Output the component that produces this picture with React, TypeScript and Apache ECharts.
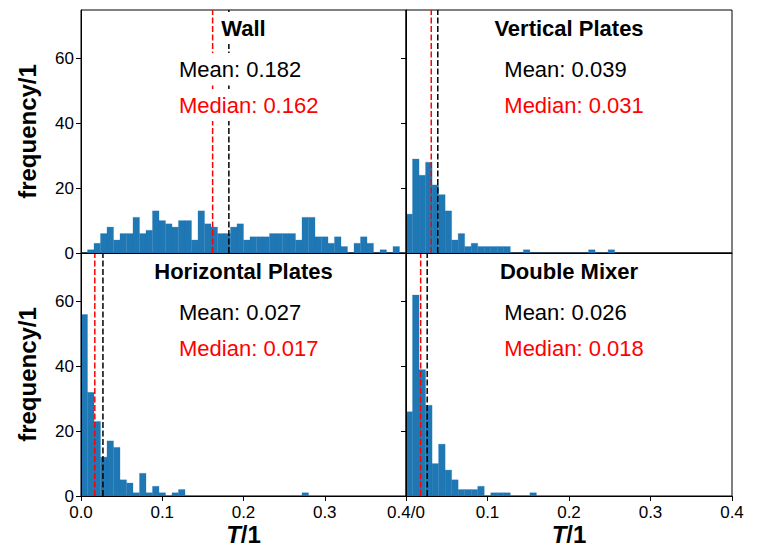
import React, { useEffect, useRef } from "react";
import * as echarts from "echarts";

// ---- data ----
const BIN_WIDTH = 0.008;
const panelTitles = ["Wall", "Vertical Plates", "Horizontal Plates", "Double Mixer"];
const wallCounts = [0, 1, 3, 6, 8, 4, 6, 6, 11, 6, 7, 13, 10, 9, 8, 10, 10, 4, 13, 9, 8, 6, 6, 8, 9, 4, 5, 5, 5, 6, 6, 6, 6, 4, 11, 11, 5, 5, 3, 5, 2, 0, 3, 5, 3, 0, 1, 0, 2, 0];
const verticalCounts = [12, 29, 24, 28, 21, 18, 13, 4, 6, 2, 3, 2, 2, 2, 2, 2, 0, 0, 1, 0, 0, 0, 0, 0, 0, 0, 0, 0, 1, 0, 0, 1];
const horizontalCounts = [56, 32, 23, 12, 17, 15, 5, 4, 1, 7, 1, 3, 1, 0, 1, 2, 0, 0, 0, 0, 0, 0, 0, 0, 0, 0, 0, 0, 0, 0, 0, 0, 0, 0, 1];
const doubleCounts = [26, 62, 39, 28, 10, 16, 8, 5, 2, 2, 2, 3, 0, 1, 1, 1, 0, 0, 0, 1];
const means = [0.182, 0.039, 0.027, 0.026];
const medians = [0.162, 0.031, 0.017, 0.018];
const yTicks = [0, 20, 40, 60];
const X_MAX = 0.4;
const Y_MAX = 75;

const allCounts = [wallCounts, verticalCounts, horizontalCounts, doubleCounts];

const FONT = "'Liberation Sans', Arial, Helvetica, sans-serif";
const BAR_COLOR = "#1f77b4";

const grids = [
  { left: 81, top: 10, width: 325, height: 243 },
  { left: 406, top: 10, width: 326, height: 243 },
  { left: 81, top: 253, width: 325, height: 243 },
  { left: 406, top: 253, width: 326, height: 243 },
];

export default function App() {
  const ref = useRef<HTMLDivElement>(null);
  useEffect(() => {
    if (!ref.current) return;
    const chart = echarts.init(ref.current, undefined, { renderer: "svg" });

    const xAxis = grids.map((_, i) => {
      const bottom = i >= 2;
      const left = i % 2 === 0;
      return {
        gridIndex: i,
        type: "value",
        min: 0,
        max: X_MAX,
        interval: 0.1,
        z: 10,
        axisLine: { show: true, onZero: false, lineStyle: { color: "#000", width: 1 } },
        axisTick: { show: bottom, length: 5, lineStyle: { color: "#000", width: 1 } },
        axisLabel: {
          show: bottom,
          color: "#000",
          fontSize: 17,
          fontFamily: FONT,
          margin: 8,
          formatter: (v: number) => {
            if (left && Math.abs(v - 0.4) < 1e-9) return "0.4/0";
            if (!left && Math.abs(v) < 1e-9) return "";
            return v.toFixed(1);
          },
        },
        splitLine: { show: false },
        name: bottom ? "{i|T}{b|/1}" : "",
        nameLocation: "middle",
        nameGap: 26,
        nameTextStyle: {
          rich: {
            i: { fontSize: 24, fontWeight: "bold", fontStyle: "italic", fontFamily: FONT, color: "#000" },
            b: { fontSize: 24, fontWeight: "bold", fontFamily: FONT, color: "#000" },
          },
        },
      };
    });

    const yAxis = grids.map((_, i) => {
      const left = i % 2 === 0;
      return {
        gridIndex: i,
        type: "value",
        min: 0,
        max: Y_MAX,
        z: 10,
        axisLine: { show: true, onZero: false, lineStyle: { color: "#000", width: 1 } },
        axisTick: { show: true, length: 5, customValues: yTicks, lineStyle: { color: "#000", width: 1 } },
        axisLabel: {
          show: left,
          customValues: yTicks,
          color: "#000",
          fontSize: 17,
          fontFamily: FONT,
          margin: 7,
        },
        splitLine: { show: false },
        name: left ? "frequency/1" : "",
        nameLocation: "middle",
        nameGap: 42,
        nameTextStyle: { fontSize: 24, fontWeight: "bold", fontFamily: FONT, color: "#000" },
      };
    });

    const series: any[] = [];
    allCounts.forEach((counts, i) => {
      series.push({
        type: "custom",
        xAxisIndex: i,
        yAxisIndex: i,
        silent: true,
        data: counts.map((c, k) => [k * BIN_WIDTH, (k + 1) * BIN_WIDTH, c]),
        encode: { x: [0, 1], y: 2 },
        renderItem: (params: any, api: any) => {
          const p0 = api.coord([api.value(0), api.value(2)]);
          const p1 = api.coord([api.value(1), 0]);
          return {
            type: "rect",
            shape: { x: p0[0], y: p0[1], width: p1[0] - p0[0], height: p1[1] - p0[1] },
            style: { fill: BAR_COLOR, stroke: BAR_COLOR, lineWidth: 0.3 },
          };
        },
        z: 2,
      });
      series.push({
        type: "line",
        xAxisIndex: i,
        yAxisIndex: i,
        silent: true,
        symbol: "none",
        data: [[medians[i], 0], [medians[i], Y_MAX]],
        lineStyle: { color: "#ff0000", width: 1.5, type: [6, 2.5] },
        z: 5,
      });
      series.push({
        type: "line",
        xAxisIndex: i,
        yAxisIndex: i,
        silent: true,
        symbol: "none",
        data: [[means[i], 0], [means[i], Y_MAX]],
        lineStyle: { color: "#000000", width: 1.5, type: [6, 2.5] },
        z: 5,
      });
    });

    const graphic: any[] = [];
    grids.forEach((g, i) => {
      const cx = g.left + g.width / 2;
      const tx = g.left + g.width * 0.3 - 5.5;
      graphic.push({
        type: "text",
        x: cx,
        y: g.top + 18,
        z: 100,
        style: {
          text: panelTitles[i],
          fontSize: 22,
          fontWeight: "bold",
          fontFamily: FONT,
          fill: "#000",
          align: "center",
          verticalAlign: "middle",
          backgroundColor: "#fff",
          padding: [5, 6],
        },
      });
      graphic.push({
        type: "text",
        x: tx,
        y: g.top + 59,
        z: 100,
        style: {
          text: "Mean: " + means[i].toFixed(3),
          fontSize: 22,
          fontFamily: FONT,
          fill: "#000",
          align: "left",
          verticalAlign: "middle",
          backgroundColor: "#fff",
          padding: [5, 6],
        },
      });
      graphic.push({
        type: "text",
        x: tx,
        y: g.top + 95,
        z: 100,
        style: {
          text: "Median: " + medians[i].toFixed(3),
          fontSize: 22,
          fontFamily: FONT,
          fill: "#ff0000",
          align: "left",
          verticalAlign: "middle",
          backgroundColor: "#fff",
          padding: [5, 6],
        },
      });
    });

    chart.setOption({
      animation: false,
      backgroundColor: "#fff",
      grid: grids.map((g) => ({ ...g, show: true, borderColor: "#000", borderWidth: 1, backgroundColor: "transparent" })),
      xAxis,
      yAxis,
      series,
      graphic,
    });
    return () => chart.dispose();
  }, []);
  return (
    <div
      ref={ref}
      style={{ position: "fixed", left: 0, top: 0, width: 761, height: 553, background: "#fff" }}
    />
  );
}
